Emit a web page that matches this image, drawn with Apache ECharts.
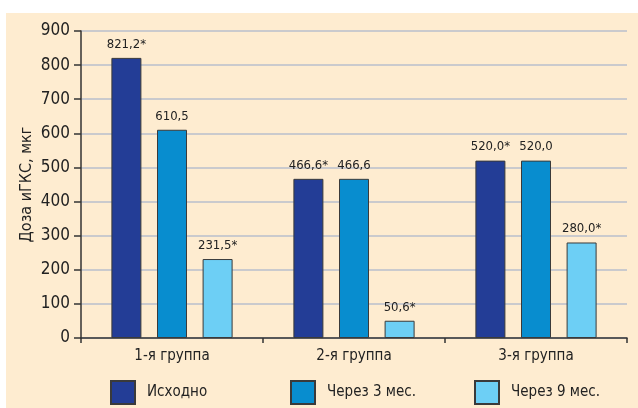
<!DOCTYPE html>
<html>
<head>
<meta charset="utf-8">
<script src="https://cdn.jsdelivr.net/npm/echarts@6/dist/echarts.min.js"></script>
<style>
  html, body { margin: 0; padding: 0; background: #ffffff; }
  #bg { position: absolute; left: 6px; top: 13px; width: 632px; height: 395px; background: #feecd0; }
  #chart { position: absolute; left: 0; top: 0; width: 638px; height: 408px; }
</style>
</head>
<body>
<div id="bg"></div>
<div id="chart"></div>
<script>
const categories = ['1-я группа', '2-я группа', '3-я группа'];
const seriesNames = ['Исходно', 'Через 3 мес.', 'Через 9 мес.'];
const baseline = [821.2, 466.6, 520.0];
const month3 = [610.5, 466.6, 520.0];
const month9 = [231.5, 50.6, 280.0];
const baselineStars = [true, true, true];
const month3Stars = [false, false, false];
const month9Stars = [true, true, true];
const yTicks = [0, 100, 200, 300, 400, 500, 600, 700, 800, 900];
const yAxisName = 'Доза иГКС, мкг';

const colors = ['#233d96', '#088dcf', '#6dcff5'];
const FONT = "'Liberation Sans Narrow', 'DejaVu Sans Condensed', 'Roboto Condensed', sans-serif";

function fmt(stars) {
  return function (p) {
    return p.value.toFixed(1).replace('.', ',') + (stars[p.dataIndex] ? '*' : '');
  };
}

const valueSets = [baseline, month3, month9];
const starSets = [baselineStars, month3Stars, month9Stars];

const series = seriesNames.map((name, i) => ({
  name: name,
  type: 'bar',
  data: valueSets[i],
  barWidth: 30,
  barGap: '52%',
  itemStyle: { color: colors[i], borderColor: '#3a3a3a', borderWidth: 1 },
  label: {
    show: true,
    position: 'top',
    distance: 7,
    color: '#222',
    fontFamily: FONT,
    fontSize: 13,
    formatter: fmt(starSets[i])
  }
}));

const legendLefts = [110, 290, 474];
const legends = seriesNames.map((name, i) => ({
  data: [name],
  left: legendLefts[i],
  top: 380,
  padding: 0,
  itemWidth: 24,
  itemHeight: 23,
  icon: 'rect',
  textStyle: { fontFamily: FONT, fontSize: 15, color: '#222', padding: [0, 0, 0, 7] }
}));

const chart = echarts.init(document.getElementById('chart'), null, { renderer: 'canvas' });
chart.setOption({
  backgroundColor: 'transparent',
  animation: false,
  color: colors,
  grid: { left: 81, right: 11, top: 31, bottom: 70 },
  legend: legends,
  xAxis: {
    type: 'category',
    data: categories,
    axisLine: { lineStyle: { color: '#333', width: 1.5 } },
    axisTick: { show: true, length: 5, lineStyle: { color: '#333', width: 1.5 } },
    axisLabel: { fontFamily: FONT, fontSize: 15, color: '#222', margin: 11 }
  },
  yAxis: {
    type: 'value',
    min: yTicks[0],
    max: yTicks[yTicks.length - 1],
    interval: 100,
    name: yAxisName,
    nameLocation: 'middle',
    nameRotate: 90,
    nameGap: 46,
    nameMoveOverlap: false,
    nameTextStyle: { fontFamily: FONT, fontSize: 16, color: '#222' },
    axisLine: { show: true, lineStyle: { color: '#333', width: 1.5 } },
    axisTick: { show: true, length: 7, lineStyle: { color: '#333', width: 1.5 } },
    axisLabel: { fontFamily: FONT, fontSize: 17, color: '#222', margin: 11 },
    splitLine: { lineStyle: { color: '#b9bfcd', width: 1.5 } }
  },
  series: series
});
</script>
</body>
</html>
